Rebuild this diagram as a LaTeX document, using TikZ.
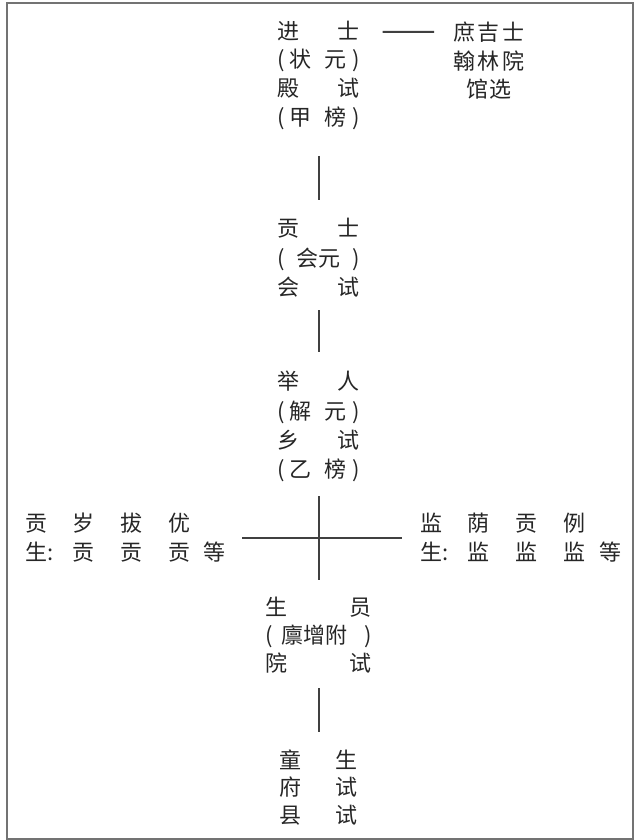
\documentclass[tikz,border=0pt]{standalone}
\usepackage{fontspec}
\newfontfamily\cjk{Noto Sans CJK SC}
\newcommand\rowbox[2]{\hbox to #1{\vrule height 19pt depth 2.2pt width 0pt\relax #2}}
\newcommand\rowfree[1]{\hbox{\vrule height 19pt depth 2.2pt width 0pt\relax #1}}
\begin{document}
\begin{tikzpicture}[x=1pt,y=-1pt,
  blk/.style={inner sep=0pt, outer sep=0pt, align=center, text=black!85},
  side/.style={inner sep=0pt, outer sep=0pt, align=left, text=black!85, anchor=west,
    font={\cjk\fontsize{22}{29}\selectfont}},
  conn/.style={line width=2pt, draw=black!75},
  frame/.style={line width=1.8pt, draw=black!55}]
\useasboundingbox (0,0) rectangle (640,840);
\draw[frame] (7,3) rectangle (633,839);

\node[blk, font={\cjk\fontsize{22}{28.7}\selectfont}] (jinshi) at (318.5,74.9)
  {\rowbox{82pt}{进\hfill 士}\\
   \rowbox{82pt}{(\kern5pt 状\hfill 元\kern6pt)}\\
   \rowbox{82pt}{殿\hfill 试}\\
   \rowbox{82pt}{(\kern5pt 甲\hfill 榜\kern6pt)}};

\node[blk, font={\cjk\fontsize{22}{28.7}\selectfont}] (shuji) at (489,60.8)
  {\rowbox{72pt}{庶\hfill 吉\hfill 士}\\
   \rowbox{72pt}{翰\hfill 林\hfill 院}\\
   \rowbox{46pt}{馆\hfill 选}};

\node[blk, font={\cjk\fontsize{22}{29.5}\selectfont}] (gongshi) at (318.5,257.7)
  {\rowbox{83pt}{贡\hfill 士}\\
   \rowbox{83pt}{(\hfill 会元\hfill )}\\
   \rowbox{83pt}{会\hfill 试}};

\node[blk, font={\cjk\fontsize{22}{29.3}\selectfont}] (juren) at (318.5,426.5)
  {\rowbox{83pt}{举\hfill 人}\\
   \rowbox{83pt}{(\kern5pt 解\hfill 元\kern6pt)}\\
   \rowbox{83pt}{乡\hfill 试}\\
   \rowbox{83pt}{(\kern5pt 乙\hfill 榜\kern6pt)}};

\node[blk, font={\cjk\fontsize{22}{28}\selectfont}] (shengyuan) at (318.5,635)
  {\rowbox{106pt}{生\hfill 员}\\
   \rowbox{106pt}{(\kern9pt 廪增附\hfill )}\\
   \rowbox{106pt}{院\hfill 试}};

\node[blk, font={\cjk\fontsize{22}{27.5}\selectfont}] (tongsheng) at (318.5,787.3)
  {\rowbox{79pt}{童\hfill 生}\\
   \rowbox{79pt}{府\hfill 试}\\
   \rowbox{79pt}{县\hfill 试}};

\node[side] (lft) at (25,537.5)
  {\rowfree{贡\hspace{25.7pt}岁\hspace{25.7pt}拔\hspace{25.7pt}优}\\
   \rowfree{\makebox[47.7pt][l]{生\kern1pt:}贡\hspace{25.7pt}贡\hspace{25.7pt}贡\hspace{13pt}等}};

\node[side] (rgt) at (420,537.5)
  {\rowfree{监\hspace{25.7pt}荫\hspace{25.7pt}贡\hspace{25.7pt}例}\\
   \rowfree{\makebox[47.7pt][l]{生\kern1pt:}监\hspace{25.7pt}监\hspace{25.7pt}监\hspace{14pt}等}};

\draw[conn] ([xshift=23pt,yshift=43pt]jinshi.east) -- ([xshift=-19pt,yshift=28.8pt]shuji.west);
\draw[conn, shorten <=26.3pt, shorten >=17.6pt] (jinshi) -- (gongshi);
\draw[conn, shorten <=12.2pt, shorten >=19pt] (gongshi) -- (juren);
\draw[conn, shorten <=14pt, shorten >=16.4pt] (juren) -- (shengyuan);
\draw[conn, shorten <=16.9pt, shorten >=18pt] (lft) -- (rgt);
\draw[conn, shorten <=14.4pt, shorten >=17.2pt] (shengyuan) -- (tongsheng);
\end{tikzpicture}
\end{document}
